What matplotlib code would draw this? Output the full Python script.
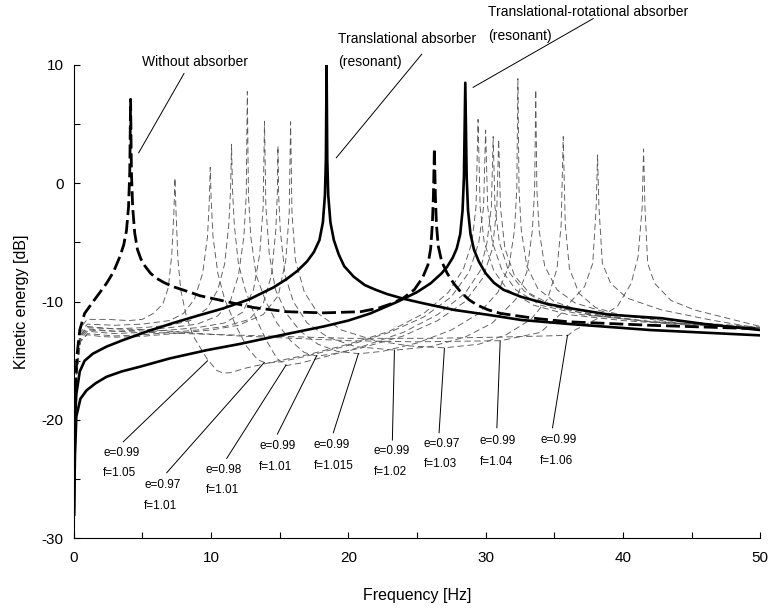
import matplotlib.pyplot as plt
import numpy as np

plt.rcParams['font.family'] = ['Liberation Sans', 'DejaVu Sans']
plt.rcParams['axes.unicode_minus'] = False

# (frequency [Hz], kinetic energy [dB])
without_absorber = [
    (0.03, -24), (0.1, -18), (0.25, -14.5), (0.45, -12.4), (0.8, -11.0), (1.42, -10.0),
    (1.93, -9.2), (2.4, -8.45), (2.9, -7.5), (3.37, -6.2), (3.65, -5.2), (3.85, -4.0),
    (4.0, -2.0), (4.09, 1.0), (4.15, 7.1), (4.21, 1.0), (4.3, -2.0), (4.45, -4.2),
    (4.65, -5.6), (4.9, -6.4), (5.2, -7.0), (5.6, -7.6), (6.0, -8.0), (6.6, -8.4),
    (7.26, -8.74), (8.2, -9.1), (9.2, -9.5), (11.15, -10.0), (13.1, -10.5), (15.5, -10.85),
    (18.2, -10.95), (20.9, -10.85), (22.2, -10.55), (23.2, -10.15), (24.0, -9.7),
    (24.8, -9.0), (25.4, -8.0), (25.8, -6.9), (26.0, -5.5), (26.12, -3.5), (26.2, -1.0),
    (26.27, 2.95), (26.34, -1.0), (26.42, -3.5), (26.55, -5.3), (26.8, -6.6), (27.2, -7.6),
    (27.7, -8.5), (28.2, -9.2), (28.8, -9.85), (29.4, -10.3), (30.2, -10.7), (31.1, -11.0),
    (33.5, -11.4), (36.0, -11.7), (42, -12.0), (50, -12.3),
]

translational = [
    (0.03, -28), (0.1, -20.0), (0.2, -17.8), (0.45, -15.9), (0.8, -15.0), (1.4, -14.4),
    (2.4, -13.8), (3.6, -13.25), (5.4, -12.5), (7.26, -11.8), (9.0, -11.2), (10.9, -10.57),
    (12.8, -9.8), (14.55, -8.8), (15.5, -8.1), (16.3, -7.4), (17.0, -6.6), (17.5, -5.8),
    (17.9, -4.8), (18.15, -3.3), (18.3, -1.0), (18.37, 2.0), (18.42, 10.0), (18.47, 2.0),
    (18.54, -1.0), (18.7, -3.3), (18.95, -4.8), (19.3, -6.0), (19.7, -7.0), (20.4, -7.9),
    (21.2, -8.6), (22.0, -9.0), (22.8, -9.35), (24.0, -9.75), (25.3, -10.1), (27.7, -10.7),
    (30.1, -11.1), (32.6, -11.55), (36.2, -11.9), (42, -12.4), (50, -12.85),
]

translational_rotational = [
    (0.03, -28), (0.1, -23), (0.2, -19.7), (0.5, -18.2), (0.94, -17.5), (1.6, -16.9),
    (2.4, -16.35), (3.5, -15.9), (4.83, -15.5), (7.0, -14.8), (9.7, -14.1), (12.0, -13.6),
    (14.55, -12.97), (16.5, -12.5), (18.2, -12.1), (20.0, -11.6), (21.6, -11.0),
    (23.6, -10.0), (25.0, -9.2), (26.0, -8.45), (26.8, -7.6), (27.2, -7.05), (27.6, -6.3),
    (27.9, -5.5), (28.15, -4.3), (28.32, -2.3), (28.42, 0.5), (28.52, 8.5), (28.62, 0.5),
    (28.72, -2.3), (28.9, -4.3), (29.15, -5.6), (29.5, -6.6), (30.0, -7.6), (30.6, -8.4),
    (31.3, -9.0), (32.6, -9.6), (34.5, -10.2), (36.2, -10.57), (39, -11.1), (42.8, -11.4),
    (46, -11.9), (50, -12.4),
]

# detuned translational-rotational absorbers (thin dashed)
e099_f105 = [
    (0.05, -22), (0.2, -15.5), (0.5, -12.2), (1.0, -11.5), (2.5, -11.5), (4.0, -11.6),
    (5.0, -11.5), (5.8, -11.0), (6.5, -10.2), (6.9, -8.8), (7.15, -6.0), (7.3, -2.5),
    (7.38, 0.45), (7.46, -2.5), (7.6, -6.5), (7.8, -9.0), (8.2, -11.2), (8.7, -12.9),
    (9.7, -14.8), (10.4, -15.8), (10.9, -16.05), (11.4, -16.0), (12.6, -15.6), (14.5, -15.1),
    (17, -14.5), (20, -13.6), (23, -12.5), (25.5, -11.0), (27.3, -9.2), (28.4, -7.2),
    (29.0, -5.0), (29.3, -2.0), (29.45, 5.4), (29.6, -2.0), (29.9, -5.0), (30.6, -7.4),
    (31.6, -9.0), (33.5, -10.3), (36, -11.1), (40, -11.6), (45, -12.0), (50, -12.2),
]
e097_f101 = [
    (0.05, -22), (0.2, -15.8), (0.5, -12.6), (1.0, -11.9), (3.0, -12.0), (5.0, -11.9),
    (7.0, -11.6), (8.0, -11.0), (8.8, -9.8), (9.4, -7.6), (9.75, -4.5), (9.88, -1.5),
    (9.95, 1.35), (10.02, -1.5), (10.15, -4.5), (10.5, -7.6), (11.0, -9.8), (11.8, -12.0),
    (12.6, -13.8), (13.4, -14.9), (14.0, -15.2), (15.0, -15.1), (17, -14.6), (20, -13.7),
    (23, -12.6), (25.5, -11.3), (27.5, -9.6), (28.8, -7.5), (29.5, -5.0), (29.85, -2.0),
    (30.0, 4.5), (30.15, -2.0), (30.5, -5.0), (31.2, -7.4), (32.2, -9.0), (34, -10.3),
    (37, -11.1), (42, -11.7), (50, -12.2),
]
e098_f101 = [
    (0.05, -22), (0.2, -16), (0.5, -12.8), (1.0, -12.1), (3, -12.3), (5, -12.2),
    (7, -12.0), (8.5, -11.6), (9.7, -10.6), (10.5, -9.0), (11.0, -6.8), (11.3, -3.5),
    (11.43, -0.5), (11.5, 3.3), (11.57, -0.5), (11.7, -3.5), (12.0, -6.8), (12.5, -9.0),
    (13.2, -11.2), (14.0, -13.2), (14.8, -14.8), (15.5, -15.4), (16.5, -15.2), (18.5, -14.6),
    (21, -13.8), (24, -12.6), (26.5, -11.1), (28.5, -9.3), (29.6, -7.4), (30.1, -5.0),
    (30.42, -2.0), (30.55, 3.95), (30.68, -2.0), (31.0, -5.0), (31.7, -7.5), (32.8, -9.1),
    (34.5, -10.3), (37.5, -11.1), (42, -11.7), (50, -12.25),
]
e099_f101 = [
    (0.05, -22), (0.2, -16.2), (0.5, -13.0), (1, -12.3), (3, -12.5), (5, -12.4),
    (7, -12.2), (9, -11.9), (10.5, -11.2), (11.4, -10.0), (12.0, -7.8), (12.4, -4.5),
    (12.57, -1.0), (12.65, 7.75), (12.73, -1.0), (12.9, -4.5), (13.3, -7.8), (14.0, -10.0),
    (14.8, -11.8), (15.8, -13.3), (16.8, -14.3), (17.7, -14.6), (19, -14.4), (21, -13.9),
    (24, -12.9), (26.5, -11.6), (28.5, -10.0), (29.8, -8.0), (30.5, -5.5), (30.82, -2.0),
    (30.95, 3.7), (31.08, -2.0), (31.4, -5.5), (32.1, -7.8), (33.2, -9.3), (35, -10.4),
    (38, -11.2), (43, -11.8), (50, -12.25),
]
e099_f1015 = [
    (0.05, -22), (0.2, -16.4), (0.5, -13.2), (1, -12.5), (3, -12.7), (5, -12.6),
    (7, -12.4), (9, -12.2), (11, -11.8), (12.3, -10.9), (13.1, -9.0), (13.55, -6.0),
    (13.8, -2.0), (13.9, 5.25), (14.0, -2.0), (14.25, -6.0), (14.7, -9.0), (15.5, -11.0),
    (16.5, -12.5), (17.8, -13.6), (19.2, -14.2), (20.8, -14.4), (22.5, -14.2), (25, -13.5),
    (27.5, -12.4), (29.5, -11.0), (30.9, -9.2), (31.7, -7.0), (32.1, -4.0), (32.27, -0.5),
    (32.35, 8.85), (32.43, -0.5), (32.6, -4.0), (33.0, -7.0), (33.8, -8.9), (35, -10.0),
    (37.5, -11.0), (42, -11.7), (50, -12.2),
]
e099_f102 = [
    (0.05, -22), (0.2, -16.6), (0.5, -13.4), (1, -12.7), (3, -12.9), (5, -12.8),
    (7, -12.6), (9, -12.4), (11, -12.1), (12.8, -11.5), (13.8, -10.2), (14.4, -7.8),
    (14.72, -4.0), (14.83, -1.0), (14.88, 3.15), (14.93, -1.0), (15.05, -4.0), (15.4, -7.8),
    (16.0, -10.0), (17, -11.8), (18.5, -13.0), (20.5, -13.8), (23.4, -14.1), (26, -13.8),
    (28.5, -13.0), (30.5, -11.8), (32.2, -9.8), (33.0, -7.5), (33.4, -4.0), (33.57, -0.5),
    (33.65, 7.9), (33.73, -0.5), (33.9, -4.0), (34.3, -7.0), (35.2, -9.0), (36.5, -10.1),
    (39, -11.0), (43, -11.6), (50, -12.15),
]
e097_f103 = [
    (0.05, -22), (0.2, -16.5), (0.5, -13.3), (1, -12.8), (2, -12.95), (3, -13.0),
    (4.8, -12.95), (7.3, -12.7), (10, -12.4), (12, -12.0), (13.8, -11.1), (14.9, -9.5),
    (15.45, -6.5), (15.7, -2.5), (15.8, 5.2), (15.9, -2.5), (16.15, -6.5), (16.8, -9.2),
    (17.8, -11.0), (19.5, -12.4), (22, -13.3), (24.5, -13.75), (27.0, -13.9), (29.5, -13.6),
    (31.5, -12.8), (33.3, -11.5), (34.5, -9.8), (35.2, -7.2), (35.5, -3.5), (35.65, 3.95),
    (35.8, -3.5), (36.1, -7.2), (36.8, -9.3), (38, -10.5), (40, -11.2), (44, -11.8),
    (50, -12.2),
]
e099_f104 = [
    (0.05, -22), (0.2, -16), (0.5, -12.8), (1, -12.2), (3, -12.3), (6, -12.4),
    (8, -12.6), (12, -12.9), (16, -13.1), (20, -13.3), (25, -13.4), (31.1, -13.3),
    (34, -12.6), (35.5, -11.0), (36.2, -10.0), (37.2, -8.74), (37.8, -6.76), (38.05, -2.0),
    (38.15, 2.4), (38.25, -2.0), (38.5, -6.76), (39.1, -8.45), (40.3, -9.7), (42.8, -10.7),
    (46.4, -11.55), (50, -12.26),
]
e099_f106 = [
    (0.05, -22), (0.2, -16), (0.5, -12.9), (1, -12.4), (3, -12.5), (8, -12.7),
    (14, -12.9), (20, -13.1), (26, -13.1), (31, -13.0), (36.0, -12.85), (36.5, -12.4),
    (38.2, -11.4), (39.6, -10.4), (40.6, -8.45), (41.1, -6.2), (41.4, -2.0), (41.5, 2.9),
    (41.6, -2.0), (41.8, -6.76), (42.3, -8.45), (43.5, -9.9), (45.2, -10.7), (50, -12.1),
]

detuned = [e099_f105, e097_f101, e098_f101, e099_f101, e099_f1015,
           e099_f102, e097_f103, e099_f104, e099_f106]
e_labels = ['0.99', '0.97', '0.98', '0.99', '0.99', '0.99', '0.97', '0.99', '0.99']
f_labels = ['1.05', '1.01', '1.01', '1.01', '1.015', '1.02', '1.03', '1.04', '1.06']

fig = plt.figure(figsize=(7.69, 6.09), dpi=100)
ax = fig.add_axes([0.0957, 0.1161, 0.893, 0.7772])

for c in detuned:
    c = np.array(c)
    ax.plot(c[:, 0], c[:, 1], color='0.35', lw=0.65, dashes=(7, 4))

c = np.array(translational)
ax.plot(c[:, 0], c[:, 1], color='black', lw=1.9)
c = np.array(translational_rotational)
ax.plot(c[:, 0], c[:, 1], color='black', lw=1.9)
c = np.array(without_absorber)
ax.plot(c[:, 0], c[:, 1], color='black', lw=2.0, dashes=(5, 1.8))

# labels of the detuned curves: text x, first line y, second line y, leader
label_pos = [
    (2.16, -22.8, -24.5, (3.62, -21.84), (9.75, -15.0)),
    (5.13, -25.5, -27.3, (6.78, -24.46), (13.87, -15.16)),
    (9.64, -24.2, -25.9, (11.15, -23.25), (15.47, -15.36)),
    (13.5, -22.2, -23.96, (14.84, -21.19), (17.71, -14.55)),
    (17.5, -22.1, -23.9, (18.91, -21.08), (20.74, -14.4)),
    (21.83, -22.6, -24.4, (23.21, -21.7), (23.36, -14.1)),
    (25.47, -22.04, -23.75, (26.61, -21.08), (27.0, -13.95)),
    (29.55, -21.78, -23.53, (30.82, -20.66), (31.06, -13.33)),
    (33.97, -21.7, -23.45, (34.87, -20.66), (35.96, -12.85)),
]
for (tx, y1, y2, p0, p1), ev, fv in zip(label_pos, e_labels, f_labels):
    ax.text(tx, y1, f'e={ev}', fontsize=8.5, va='center', ha='left')
    ax.text(tx, y2, f'f={fv}', fontsize=8.5, va='center', ha='left')
    ax.plot([p0[0], p1[0]], [p0[1], p1[1]], color='black', lw=0.7)

# top annotations
ax.text(4.98, 10.25, 'Without absorber', fontsize=10, va='center', ha='left', clip_on=False)
ax.plot([8.04, 4.74], [9.28, 2.58], color='black', lw=0.7, clip_on=False)
ax.text(19.26, 12.22, 'Translational absorber', fontsize=10, va='center', ha='left', clip_on=False)
ax.text(19.26, 10.25, '(resonant)', fontsize=10, va='center', ha='left', clip_on=False)
ax.plot([25.35, 19.13], [10.91, 2.16], color='black', lw=0.7, clip_on=False)
ax.text(30.18, 14.45, 'Translational-rotational absorber', fontsize=10, va='center', ha='left', clip_on=False)
ax.text(30.18, 12.45, '(resonant)', fontsize=10, va='center', ha='left', clip_on=False)
ax.plot([37.83, 29.09], [13.92, 8.11], color='black', lw=0.7, clip_on=False)

ax.set_xlim(0, 50)
ax.set_ylim(-30, 10)
ax.set_xticks(np.arange(0, 51, 10))
ax.set_xticks(np.arange(5, 50, 10), minor=True)
ax.set_yticks(np.arange(-30, 11, 10))
ax.set_yticks(np.arange(-25, 10, 10), minor=True)
ax.tick_params(which='both', direction='in', length=4, width=0.8, labelsize=11)
ax.tick_params(axis='x', pad=9)
ax.tick_params(axis='y', pad=7)
ax.spines['top'].set_visible(False)
ax.spines['right'].set_visible(False)
ax.spines['left'].set_linewidth(0.8)
ax.spines['bottom'].set_linewidth(0.8)
ax.set_xlabel('Frequency [Hz]', fontsize=11.5, labelpad=17)
ax.set_ylabel('Kinetic energy [dB]', fontsize=11.5, labelpad=9)

fig.savefig('out.png', dpi=100)
